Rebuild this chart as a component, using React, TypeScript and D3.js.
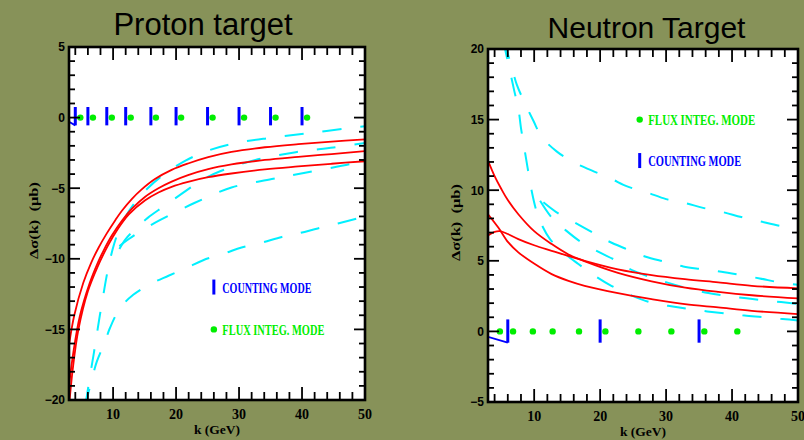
import React from 'react';
import * as d3 from 'd3';

type Pt = [number, number];

const W = 804;
const H = 440;
const K_DOMAIN: [number, number] = [3, 50];

// ---------- tick labels ----------
const xMajorTicks = [10, 20, 30, 40, 50];
const protonYTicks = [-20, -15, -10, -5, 0, 5];
const neutronYTicks = [-5, 0, 5, 10, 15, 20];

// ---------- measurement markers (at Δσ = 0) ----------
const protonCountingK = [4, 6, 9, 12, 16, 20, 25, 30, 35, 40];
const protonCountingErr: Pt = [-0.55, 0.75];
const neutronCountingK = [6, 20, 35];
const neutronCountingErr: Pt = [-0.8, 0.85];
const fluxK = [4.8, 6.8, 9.8, 12.8, 16.8, 20.8, 25.8, 30.8, 35.8, 40.8];
const protonBlueTail: Pt[] = [[3, -0.3], [4, -0.55]];
const neutronBlueTail: Pt[] = [[3, -0.38], [6, -0.8]];

// ---------- proton target: model curves (k, Δσ) ----------
const protonRed1: Pt[] = [
  [3, -16.1], [3.84, -14.0], [5.27, -11.7], [6.5, -10.3], [7.65, -9.25], [9, -8.2], [10.3, -7.3],
  [11.4, -6.6], [13, -5.75], [14.5, -5.1], [16.65, -4.35], [19.3, -3.7], [21.9, -3.25],
  [25.1, -2.8], [28.8, -2.43], [34.1, -2.1], [39.4, -1.88], [44.7, -1.7], [50, -1.54],
];
const protonRed2: Pt[] = [
  [3, -19.0], [3.7, -16.6], [4.7, -14.1], [6.3, -11.7], [7.5, -10.35], [8.45, -9.45], [9.8, -8.35],
  [11.4, -7.3], [13, -6.45], [15.1, -5.6], [17.2, -5.0], [19.3, -4.53], [21.9, -4.07],
  [25.1, -3.65], [28.8, -3.32], [34.1, -3.0], [39.4, -2.78], [44.7, -2.58], [50, -2.38],
];
const protonRed3: Pt[] = [
  [3, -20.5], [3.6, -17.8], [4.5, -15.0], [6.0, -12.3], [7.5, -10.6], [9.2, -9.05], [10.8, -7.85],
  [12.5, -6.85], [15.1, -5.85], [17.2, -5.3], [19.3, -4.9], [21.9, -4.55], [25.1, -4.22],
  [28.8, -3.96], [34.1, -3.67], [39.4, -3.46], [44.7, -3.27], [50, -3.09],
];
const protonCyan1: Pt[] = [
  [5.6, -20.4], [6.3, -18.4], [6.9, -16.8], [7.4, -15.4], [7.9, -14.0], [8.4, -12.7], [8.9, -11.4],
  [9.5, -10.1], [10.2, -8.9], [11, -7.9], [12, -7.0], [13.5, -6.0], [15.5, -5.0], [18, -4.05],
  [21.5, -3.05], [25, -2.35], [29.3, -1.82], [35.3, -1.42], [41.6, -1.07], [48, -0.72], [50, -0.62],
];
const protonCyan2: Pt[] = [
  [11, -9.3], [12, -8.6], [13.5, -7.9], [15.5, -7.1], [18, -6.3], [21.2, -5.3], [24, -4.45],
  [27, -3.8], [32.6, -3.0], [39, -2.45], [45, -2.12], [50, -1.8],
];
const protonCyan3: Pt[] = [
  [11, -9.1], [12.5, -8.6], [14.5, -8.0], [17.5, -7.25], [22.9, -6.05], [28.8, -4.95],
  [35.2, -4.35], [40.5, -3.9], [47.6, -3.3], [50, -3.05],
];
const protonCyan4: Pt[] = [
  [5.5, -20.5], [6.6, -18.6], [7.4, -17.3], [8.7, -15.9], [9.5, -14.9], [11.1, -13.5], [13.2, -12.55],
  [16.1, -11.75], [18.8, -11.2], [21.9, -10.6], [24.3, -10.1], [27.8, -9.6], [30.4, -9.2],
  [33.6, -8.85], [36.8, -8.45], [39.4, -8.2], [42.5, -7.85], [45.7, -7.5], [50, -7.0],
];

// ---------- neutron target: model curves (k, Δσ) ----------
const neutronRed1: Pt[] = [
  [3, 12.1], [4, 11.0], [5, 10.1], [6, 9.3], [7.6, 8.3], [10, 7.1], [12.6, 6.2], [15.2, 5.45],
  [17.6, 4.98], [22.7, 4.15], [27.8, 3.55], [32.9, 3.1], [37.9, 2.8], [43, 2.56], [50, 2.34],
];
const neutronRed2: Pt[] = [
  [3, 8.3], [4.56, 7.36], [6.08, 6.3], [7.6, 5.6], [10.1, 4.77], [12.65, 4.06], [15.2, 3.58],
  [17.65, 3.23], [22.7, 2.71], [27.8, 2.29], [32.85, 1.93], [37.9, 1.7], [43, 1.46], [50, 1.23],
];
const neutronRed3: Pt[] = [
  [3, 6.8], [4, 7.05], [4.8, 7.1], [6, 6.9], [7.6, 6.54], [10, 6.1], [12.65, 5.71], [17.65, 5.0],
  [22.7, 4.4], [27.8, 3.99], [32.85, 3.7], [37.9, 3.47], [43, 3.23], [50, 3.05],
];
const neutronCyan1: Pt[] = [
  [5.4, 20.6], [6.6, 18.7], [7.35, 17.5], [8.6, 16.15], [9.9, 14.9], [11.1, 13.8], [13.4, 12.75],
  [15.9, 12.0], [18.7, 11.4], [21.5, 10.85], [24.2, 10.25], [27, 9.86], [30, 9.37], [32.8, 9.1],
  [35.6, 8.75], [38.6, 8.45], [41.4, 8.1], [44.2, 7.8], [47.2, 7.48], [50, 7.25],
];
const neutronCyan2: Pt[] = [
  [11.4, 9.14], [13.4, 8.43], [16.2, 7.7], [18.7, 7.05], [21.2, 6.4], [24, 5.83], [26.8, 5.3],
  [29.8, 4.93], [32.6, 4.6], [35.4, 4.41], [38.4, 4.22], [41.2, 4.0], [44.2, 3.75], [47.2, 3.47],
  [50, 3.3],
];
const neutronCyan3: Pt[] = [
  [10.9, 9.25], [12.65, 8.07], [14.9, 7.12], [17.2, 6.3], [19.7, 5.65], [22.5, 5.0], [25, 4.3],
  [27.8, 3.82], [30.6, 3.4], [33.3, 3.05], [36.4, 2.72], [39.2, 2.52], [42.2, 2.34], [45.5, 2.17],
  [50, 1.95],
];
const neutronCyan4: Pt[] = [
  [5.3, 20.6], [6.3, 18.5], [7.0, 17.0], [7.6, 15.8], [8.0, 14.4], [8.5, 13.0], [9.0, 11.6],
  [9.6, 10.0], [10.3, 8.6], [11.0, 7.7], [12.4, 6.54], [14.4, 5.6], [16.7, 4.77], [19.2, 3.94],
  [21.7, 3.23], [24.5, 2.6], [27.3, 2.1], [30.3, 1.81], [34, 1.55], [38.9, 1.27], [41.9, 1.12],
  [45, 1.0], [47.7, 0.87], [50, 0.78],
];

// ---------- legends (data coordinates of the symbol) ----------
const protonLegendCounting: Pt = [26, -12];
const protonLegendFlux: Pt = [26, -15];
const neutronLegendCounting: Pt = [26, 12.1];
const neutronLegendFlux: Pt = [26, 15];

const BG = '#879259';
const RED = '#ff0000';
const CYAN = '#00f0ff';
const BLUE = '#0000ff';
const GREEN = '#00ee00';

interface PanelCfg {
  id: string;
  title: string;
  titleX: number;
  titleY: number;
  titleSize: number;
  box: { left: number; right: number; top: number; bottom: number };
  yDomain: [number, number];
  yTicks: number[];
  red: Pt[][];
  cyan: Pt[][];
  countingK: number[];
  countingErr: Pt;
  blueTail: Pt[];
  legendCounting: Pt;
  legendFlux: Pt;
  countingTextLen: number;
  fluxTextLen: number;
  yLabelX: number;
}

const panels: PanelCfg[] = [
  {
    id: 'p',
    title: 'Proton target',
    titleX: 203,
    titleY: 35,
    titleSize: 31,
    box: { left: 69, right: 365, top: 47, bottom: 400 },
    yDomain: [-20, 5],
    yTicks: protonYTicks,
    red: [protonRed1, protonRed2, protonRed3],
    cyan: [protonCyan1, protonCyan2, protonCyan3, protonCyan4],
    countingK: protonCountingK,
    countingErr: protonCountingErr,
    blueTail: protonBlueTail,
    legendCounting: protonLegendCounting,
    legendFlux: protonLegendFlux,
    countingTextLen: 89,
    fluxTextLen: 102,
    yLabelX: 33,
  },
  {
    id: 'n',
    title: 'Neutron Target',
    titleX: 646.5,
    titleY: 38,
    titleSize: 30,
    box: { left: 488, right: 798, top: 49, bottom: 402 },
    yDomain: [-5, 20],
    yTicks: neutronYTicks,
    red: [neutronRed1, neutronRed2, neutronRed3],
    cyan: [neutronCyan1, neutronCyan2, neutronCyan3, neutronCyan4],
    countingK: neutronCountingK,
    countingErr: neutronCountingErr,
    blueTail: neutronBlueTail,
    legendCounting: neutronLegendCounting,
    legendFlux: neutronLegendFlux,
    countingTextLen: 93,
    fluxTextLen: 107,
    yLabelX: 455,
  },
];

const fmt = (v: number) => (v < 0 ? '\u2212' + Math.abs(v) : String(v));

function Panel({ cfg }: { cfg: PanelCfg }) {
  const { box } = cfg;
  const xs = d3.scaleLinear().domain(K_DOMAIN).range([box.left, box.right]);
  const ys = d3.scaleLinear().domain(cfg.yDomain).range([box.bottom, box.top]);
  const line = d3
    .line<Pt>()
    .x((d) => xs(d[0]))
    .y((d) => ys(d[1]))
    .curve(d3.curveCatmullRom.alpha(0.5));
  const straight = d3
    .line<Pt>()
    .x((d) => xs(d[0]))
    .y((d) => ys(d[1]));

  const xMinor = d3.range(4, 50, 2).filter((v) => v % 10 !== 0);
  const yMinor = d3.range(cfg.yDomain[0], cfg.yDomain[1] + 1, 1).filter((v) => v % 5 !== 0);
  const XMAJ = 13, XMIN = 8, YMAJ = 11, YMIN = 6;
  const clipId = 'clip-' + cfg.id;
  const midY = (box.top + box.bottom) / 2;
  const midX = (box.left + box.right) / 2;

  return (
    <g>
      <text
        x={cfg.titleX}
        y={cfg.titleY}
        textAnchor="middle"
        fontFamily="'Liberation Sans', Arial, sans-serif"
        fontSize={cfg.titleSize}
        fill="#000"
      >
        {cfg.title}
      </text>
      <defs>
        <clipPath id={clipId}>
          <rect x={box.left} y={box.top} width={box.right - box.left} height={box.bottom - box.top} />
        </clipPath>
      </defs>
      <rect x={box.left} y={box.top} width={box.right - box.left} height={box.bottom - box.top} fill="#fff" />

      <g clipPath={`url(#${clipId})`}>
        {cfg.cyan.map((c, i) => (
          <path key={'c' + i} d={line(c) || ''} fill="none" stroke={CYAN} strokeWidth={2} strokeDasharray="19 19" />
        ))}
        {cfg.red.map((c, i) => (
          <path key={'r' + i} d={line(c) || ''} fill="none" stroke={RED} strokeWidth={1.8} />
        ))}
        <path d={straight(cfg.blueTail) || ''} fill="none" stroke={BLUE} strokeWidth={1.8} />
        {cfg.countingK.map((k) => (
          <line
            key={'b' + k}
            x1={xs(k)}
            x2={xs(k)}
            y1={ys(cfg.countingErr[0])}
            y2={ys(cfg.countingErr[1])}
            stroke={BLUE}
            strokeWidth={3}
          />
        ))}
        {fluxK.map((k) => (
          <circle key={'g' + k} cx={xs(k)} cy={ys(0)} r={3.2} fill={GREEN} />
        ))}
      </g>

      {/* legend */}
      <line
        x1={xs(cfg.legendCounting[0])}
        x2={xs(cfg.legendCounting[0])}
        y1={ys(cfg.legendCounting[1]) - 7.5}
        y2={ys(cfg.legendCounting[1]) + 7.5}
        stroke={BLUE}
        strokeWidth={3}
      />
      <text
        x={xs(cfg.legendCounting[0]) + 8.5}
        y={ys(cfg.legendCounting[1]) + 5.5}
        fontFamily="'Liberation Serif', 'Times New Roman', serif"
        fontWeight="bold"
        fontSize={15}
        fill={BLUE}
        textLength={cfg.countingTextLen}
        lengthAdjust="spacingAndGlyphs"
      >
        COUNTING MODE
      </text>
      <circle cx={xs(cfg.legendFlux[0])} cy={ys(cfg.legendFlux[1])} r={3.2} fill={GREEN} />
      <text
        x={xs(cfg.legendFlux[0]) + 8.5}
        y={ys(cfg.legendFlux[1]) + 5.5}
        fontFamily="'Liberation Serif', 'Times New Roman', serif"
        fontWeight="bold"
        fontSize={15}
        fill={GREEN}
        textLength={cfg.fluxTextLen}
        lengthAdjust="spacingAndGlyphs"
      >
        FLUX INTEG. MODE
      </text>

      {/* ticks */}
      <g stroke="#000" strokeWidth={1.8}>
        {xMajorTicks.map((k) => (
          <g key={'xm' + k}>
            <line x1={xs(k)} x2={xs(k)} y1={box.bottom} y2={box.bottom - XMAJ} />
            <line x1={xs(k)} x2={xs(k)} y1={box.top} y2={box.top + XMAJ} />
          </g>
        ))}
        {xMinor.map((k) => (
          <g key={'xn' + k}>
            <line x1={xs(k)} x2={xs(k)} y1={box.bottom} y2={box.bottom - XMIN} />
            <line x1={xs(k)} x2={xs(k)} y1={box.top} y2={box.top + XMIN} />
          </g>
        ))}
        {cfg.yTicks.map((v) => (
          <g key={'ym' + v}>
            <line x1={box.left} x2={box.left + YMAJ} y1={ys(v)} y2={ys(v)} />
            <line x1={box.right} x2={box.right - YMAJ} y1={ys(v)} y2={ys(v)} />
          </g>
        ))}
        {yMinor.map((v) => (
          <g key={'yn' + v}>
            <line x1={box.left} x2={box.left + YMIN} y1={ys(v)} y2={ys(v)} />
            <line x1={box.right} x2={box.right - YMIN} y1={ys(v)} y2={ys(v)} />
          </g>
        ))}
      </g>
      <rect
        x={box.left}
        y={box.top}
        width={box.right - box.left}
        height={box.bottom - box.top}
        fill="none"
        stroke="#000"
        strokeWidth={2.6}
      />

      {/* tick labels */}
      {cfg.yTicks.map((v) => (
        <text
          key={'yl' + v}
          x={box.left - 4}
          y={ys(v)}
          dy="0.36em"
          textAnchor="end"
          fontFamily="'Liberation Sans', Arial, sans-serif"
          fontWeight="bold"
          fontSize={12}
          fill="#000"
        >
          {fmt(v)}
        </text>
      ))}
      {xMajorTicks.map((k) => (
        <text
          key={'xl' + k}
          x={xs(k)}
          y={box.bottom + 19}
          textAnchor="middle"
          fontFamily="'Liberation Serif', 'Times New Roman', serif"
          fontWeight="bold"
          fontSize={14}
          fill="#000"
        >
          {k}
        </text>
      ))}
      <text
        x={midX}
        y={box.bottom + 34}
        textAnchor="middle"
        fontFamily="'Liberation Serif', 'Times New Roman', serif"
        fontWeight="bold"
        fontSize={13.5}
        fill="#000"
      >
        k (GeV)
      </text>
      <text
        transform={`translate(${cfg.yLabelX},${midY - 3}) rotate(-90)`}
        textAnchor="middle"
        dy="0.35em"
        fontFamily="'Liberation Serif', 'Times New Roman', serif"
        fontWeight="bold"
        fontSize={13}
        fill="#000"
        textLength={77}
        lengthAdjust="spacingAndGlyphs"
      >
        {'\u0394\u03c3(k)\u00a0\u00a0(\u03bcb)'}
      </text>
    </g>
  );
}

export default function App() {
  return (
    <svg
      width={W}
      height={H}
      viewBox={`0 0 ${W} ${H}`}
      style={{ position: 'fixed', left: 0, top: 0, display: 'block' }}
    >
      <rect x={0} y={0} width={W} height={H} fill={BG} />
      {panels.map((p) => (
        <Panel key={p.id} cfg={p} />
      ))}
    </svg>
  );
}
